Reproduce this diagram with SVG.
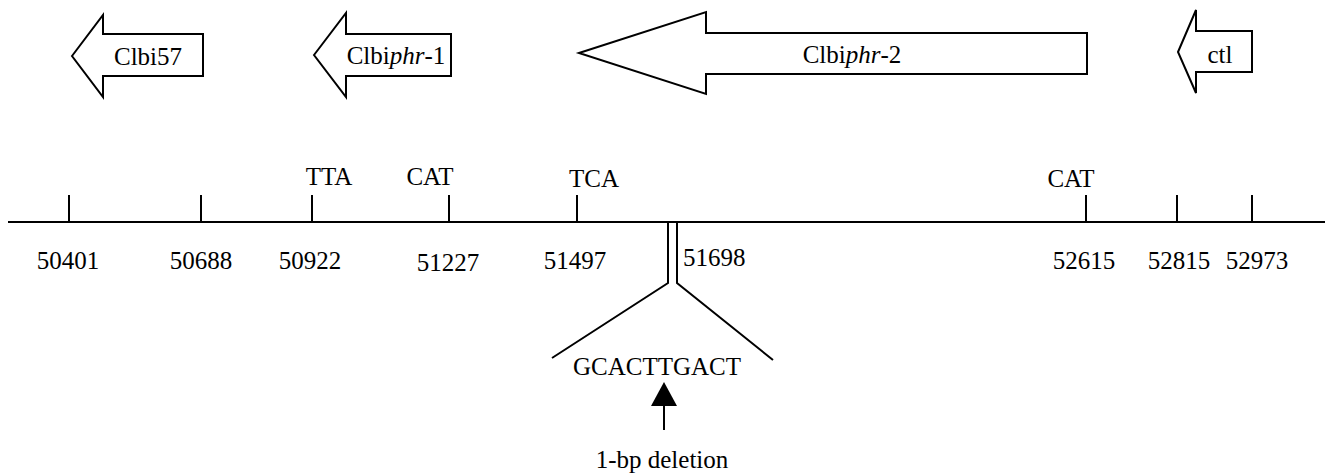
<svg xmlns="http://www.w3.org/2000/svg" width="1327" height="475" viewBox="0 0 1327 475">
<style>
.g{fill:#fff;stroke:#000;stroke-width:2;stroke-linejoin:miter}
.l{stroke:#000;stroke-width:2;fill:none}
.t{font-family:'Liberation Serif','Times New Roman',serif !important;font-size:25px;fill:#000}
.m{text-anchor:middle}
</style>
<rect width="1327" height="475" fill="#fff"/>
<g id="gene-clbi57">
<polygon class="g" points="72,56 103,15 103,34 203,34 203,76 103,76 103,97"/>
<text x="148" y="65" class="t m" font-family="Liberation Serif">Clbi57</text>
</g>
<g id="gene-clbiphr1">
<polygon class="g" points="314,55 346,13 346,34 451,34 451,76 346,76 346,97"/>
<text x="396" y="64" class="t m" font-family="Liberation Serif">Clbi<tspan font-style="italic">phr</tspan>-1</text>
</g>
<g id="gene-clbiphr2">
<polygon class="g" points="579,53 706,12 706,33 1087,33 1087,74 706,74 706,94"/>
<text x="852" y="63" class="t m" font-family="Liberation Serif">Clbi<tspan font-style="italic">phr</tspan>-2</text>
</g>
<g id="gene-ctl">
<polygon class="g" points="1178,52 1196,10 1196,31 1252,31 1252,72 1196,72 1196,93"/>
<text x="1220" y="63" class="t m" font-family="Liberation Serif">ctl</text>
</g>
<g id="connectors">
<line class="l" x1="8" y1="222" x2="1325" y2="222"/>
<line class="l" x1="69" y1="195" x2="69" y2="222"/>
<line class="l" x1="201" y1="195" x2="201" y2="222"/>
<line class="l" x1="312" y1="195" x2="312" y2="222"/>
<line class="l" x1="449" y1="195" x2="449" y2="222"/>
<line class="l" x1="577" y1="195" x2="577" y2="222"/>
<line class="l" x1="1086" y1="195" x2="1086" y2="222"/>
<line class="l" x1="1177" y1="195" x2="1177" y2="222"/>
<line class="l" x1="1252" y1="195" x2="1252" y2="222"/>
<polyline class="l" points="668,222 668,283 552,358"/>
<polyline class="l" points="677,222 677,283 773,360"/>
<line class="l" x1="664" y1="404" x2="664" y2="430"/>
<polygon points="664,382 651,406 677,406" fill="#000"/>
</g>
<g id="labels">
<text x="329" y="185" class="t m" font-family="Liberation Serif">TTA</text>
<text x="430" y="185" class="t m" font-family="Liberation Serif">CAT</text>
<text x="594" y="187" class="t m" font-family="Liberation Serif">TCA</text>
<text x="1071" y="187" class="t m" font-family="Liberation Serif">CAT</text>
<text x="68" y="269" class="t m" font-family="Liberation Serif">50401</text>
<text x="201" y="269" class="t m" font-family="Liberation Serif">50688</text>
<text x="310" y="269" class="t m" font-family="Liberation Serif">50922</text>
<text x="448" y="271" class="t m" font-family="Liberation Serif">51227</text>
<text x="575" y="269" class="t m" font-family="Liberation Serif">51497</text>
<text x="683" y="266" class="t" font-family="Liberation Serif">51698</text>
<text x="1084" y="269" class="t m" font-family="Liberation Serif">52615</text>
<text x="1179" y="269" class="t m" font-family="Liberation Serif">52815</text>
<text x="1257" y="269" class="t m" font-family="Liberation Serif">52973</text>
<text x="657" y="375" class="t m" font-family="Liberation Serif">GCACTTGACT</text>
<text x="662" y="468" class="t m" font-family="Liberation Serif">1-bp deletion</text>
</g>
</svg>
